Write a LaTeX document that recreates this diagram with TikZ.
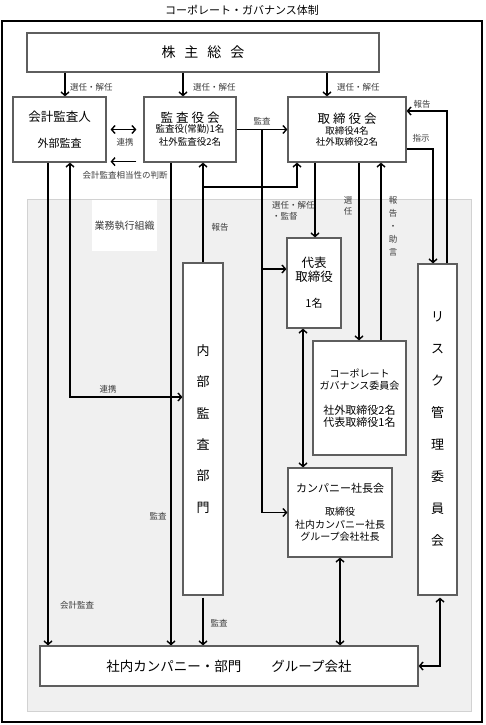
\documentclass[tikz,border=0pt]{standalone}
\usepackage{fontspec}
\setmainfont{Noto Sans CJK JP}
\usetikzlibrary{arrows.meta,calc}
\definecolor{boxgray}{HTML}{5E5E5E}
\definecolor{bggray}{HTML}{F0F0F0}
\definecolor{bgline}{HTML}{D2D2D2}
\definecolor{lblgray}{HTML}{3C3C3C}
\begin{document}
\begin{tikzpicture}[x=1pt,y=-1pt,
  box/.style={draw=boxgray,line width=1.2pt,fill=white,inner sep=0pt,align=center,text=black},
  conn/.style={line width=1.4pt,draw=black},
  arr/.style={conn,-{Straight Barb[length=3.5pt,width=8pt]}},
  dbl/.style={conn,{Straight Barb[length=3.5pt,width=8pt]}-{Straight Barb[length=3.5pt,width=8pt]}},
  lbl/.style={font=\fontsize{8.5}{11}\selectfont,text=lblgray,inner sep=0pt,align=center},
]
\useasboundingbox (0,0) rectangle (485,725);

% title and frames
\node[inner sep=0pt] (title) at (242,10) {\fontsize{11}{13}\selectfont コーポレート・ガバナンス体制};
\draw[line width=2pt] (2,21) rectangle (482,722);
\draw[draw=bgline,fill=bggray,line width=1pt] (27,199) rectangle (471,711);
\node[fill=white,minimum width=65pt,minimum height=51pt,inner sep=0pt,
      font=\fontsize{10}{12}\selectfont,text=lblgray] (biz) at (124.5,225.5) {業務執行組織};

% boxes
\node[box,minimum width=352pt,minimum height=39pt] (sh) at (203,52.5)
  {\fontsize{14}{16}\selectfont 株\hspace{9pt}主\hspace{9pt}総\hspace{9pt}会};

\node[box,minimum width=93pt,minimum height=65pt,font=\fontsize{11}{13}\selectfont] (ka) at (59.5,129.5)
  {{\fontsize{12.5}{13}\selectfont 会計監査人}\\[13pt]外部監査};

\node[box,minimum width=92pt,minimum height=65pt,font=\fontsize{9.5}{13}\selectfont] (kb) at (190,129.5)
  {{\fontsize{12.5}{13}\selectfont 監\hspace{3pt}査\hspace{3pt}役\hspace{3pt}会}\\[-3pt]
   監査役(常勤)1名\\社外監査役2名};

\node[box,minimum width=118pt,minimum height=65pt,font=\fontsize{9.5}{11}\selectfont] (tb) at (347,129.5)
  {{\fontsize{12.5}{13}\selectfont 取\hspace{3pt}締\hspace{3pt}役\hspace{3pt}会}\\[0pt]
   取締役4名\\社外取締役2名};

\node[box,minimum width=54pt,minimum height=90pt,font=\fontsize{12.5}{14}\selectfont] (dr) at (314,283)
  {代表\\取締役\\[12pt]{\fontsize{11}{14}\selectfont 1名}};

\node[box,minimum width=93pt,minimum height=114pt,font=\fontsize{10}{12.5}\selectfont] (cgc) at (359.5,398)
  {コーポレート\\ガバナンス委員会\\[12pt]{\fontsize{11}{13}\selectfont 社外取締役2名}\\
   {\fontsize{11}{13}\selectfont 代表取締役1名}};

\node[box,minimum width=104pt,minimum height=89pt,font=\fontsize{10}{12.5}\selectfont] (cp) at (340,512.5)
  {{\fontsize{11}{13}\selectfont カンパニー社長会}\\[11pt]取締役\\社内カンパニー社長\\グループ会社社長};

\node[box,minimum width=40pt,minimum height=332pt,font=\fontsize{13}{31.3}\selectfont] (ia) at (203,429)
  {内\\部\\監\\査\\部\\門};

\node[box,minimum width=39pt,minimum height=331pt,font=\fontsize{13}{32}\selectfont] (rk) at (437.5,429.5)
  {リ\\ス\\ク\\管\\理\\委\\員\\会};

\node[box,minimum width=378pt,minimum height=40pt] (bt) at (229,666)
  {\fontsize{13.5}{16}\selectfont 社内カンパニー・部門\hspace{30pt}グループ会社};

% junctions
\coordinate (j1) at (262,129.5);
\coordinate (j2) at (203,187);
\coordinate (drin) at ([yshift=14pt]dr.west);
\coordinate (iain) at ([yshift=32pt]ia.west);

% shareholders -> boxes
\draw[arr] ([xshift=-138]sh.south) -- ([xshift=-138]sh.south |- ka.north);
\draw[arr] ([xshift=-20]sh.south) -- ([xshift=-20]sh.south |- kb.north);
\draw[arr] ([xshift=124]sh.south) -- ([xshift=124]sh.south |- tb.north);
\node[lbl,anchor=west] (l1) at (70,87) {選任・解任};
\node[lbl,anchor=west] (l2) at (193,87) {選任・解任};
\node[lbl,anchor=west] (l3) at (337,87) {選任・解任};

% auditor <-> audit board
\draw[dbl,shorten <=4pt,shorten >=7pt] (ka.east) -- (kb.west);
\node[lbl] (l4) at (125,142) {連携};
\draw[arr,shorten <=7pt,shorten >=4pt] ($(kb.south west)+(0,-1)$) -- ($(ka.south east)+(0,-1)$);
\node[lbl] (l5) at (125,175) {会計監査相当性の判断};

% audit board -> board, directors, company presidents
\draw[arr] (kb.east) -- (tb.west);
\node[lbl] (l6) at (262,121) {監査};
\draw[arr] (j1) |- (cp.west);
\draw[arr] (j1 |- drin) -- (drin);

% internal audit reports
\draw[arr] (ia.north) -- (ia.north |- kb.south);
\draw[arr] (j2) -| ([xshift=-50]tb.south);
\node[lbl] (l7) at (220,227) {報告};

% audits to bottom
\draw[arr] ([xshift=-19]kb.south) -- ([xshift=-19]kb.south |- bt.north);
\node[lbl] (l8) at (158,516) {監査};
\draw[arr] ([xshift=-11.5]ka.south) -- ([xshift=-11.5]ka.south |- bt.north);
\node[lbl] (l9) at (77,605) {会計監査};
\draw[dbl] ([xshift=10.5]ka.south) |- (iain);
\node[lbl] (l10) at (108,389) {連携};
\draw[arr,shorten <=2pt] (ia.south) -- (ia.south |- bt.north);
\node[lbl] (l11) at (219,623) {監査};

% board -> representative director, committee
\draw[arr] ([xshift=-32]tb.south) -- ([xshift=-32]tb.south |- dr.north);
\node[lbl,anchor=north west,align=left] (l12) at (272,201) {選任・解任\\・監督};
\draw[arr] ([xshift=12]tb.south) -- ([xshift=12]tb.south |- cgc.north);
\node[lbl] (l13) at (348,205.5) {選\\任};
\draw[arr] ([xshift=34]tb.south |- cgc.north) -- ([xshift=34]tb.south);
\node[lbl,font=\fontsize{8.5}{13}\selectfont] (l14) at (393,226.5) {報\\告\\・\\助\\言};

% board <-> risk committee
\draw[arr] ([yshift=-19.5]tb.east) -| ([xshift=-4.5]rk.north);
\node[lbl] (l15) at (421,138) {指示};
\draw[arr] ([xshift=9.5]rk.north) |- ([yshift=18.5]tb.east);
\node[lbl] (l16) at (422,104) {報告};

% lower connections
\draw[dbl] ([xshift=-11]dr.south) -- ([xshift=-11]dr.south |- cp.north);
\draw[dbl] (cp.south) -- (cp.south |- bt.north);
\draw[dbl,shorten <=2pt] ([xshift=2.5]rk.south) |- (bt.east);
\end{tikzpicture}
\end{document}
